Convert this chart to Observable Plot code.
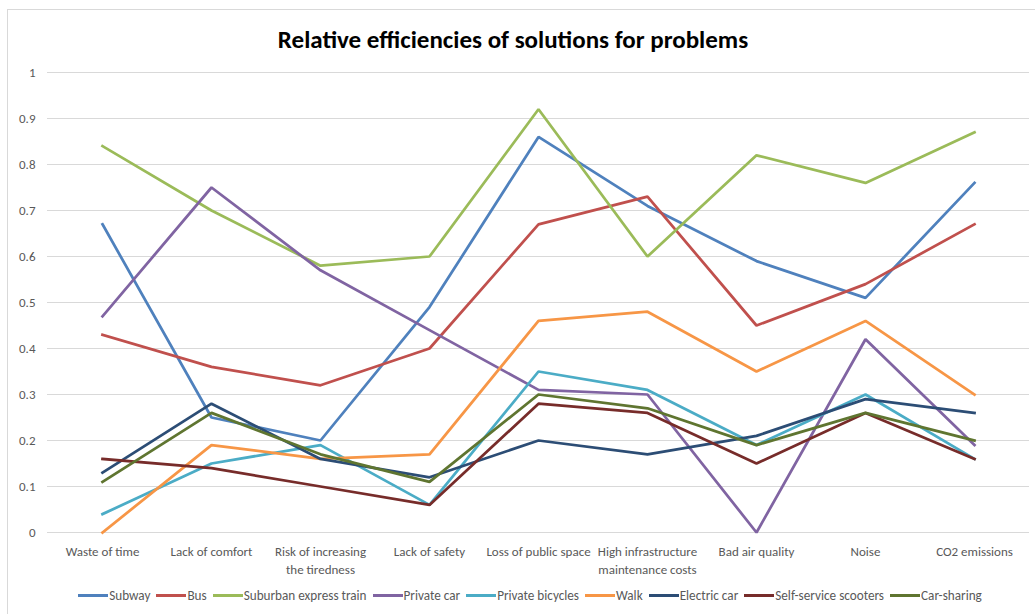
<!DOCTYPE html>
<html>
<head>
<meta charset="utf-8">
<script src="https://cdn.jsdelivr.net/npm/d3@7"></script>
<script src="https://cdn.jsdelivr.net/npm/@observablehq/plot@0.6"></script>
<style>
  html, body { margin: 0; padding: 0; background: #fff; width: 1035px; height: 614px; overflow: hidden; }
  body { position: relative; font-family: Carlito, Lato, "Open Sans", sans-serif; }
  #frame { position: absolute; left: 7px; top: 9px; width: 1040px; height: 620px; border: 1px solid #d9d9d9; box-sizing: border-box; }
  #title { position: absolute; left: 0; top: 24px; width: 1026px; text-align: center; font-weight: bold; font-size: 25px; color: #000; }
  #chart { position: absolute; left: 0; top: 60px; }
  #legend { position: absolute; left: 0; top: 587px; width: 1066px; display: flex; justify-content: center; font-size: 13.2px; color: #595959; }
  .item { display: flex; align-items: center; margin-right: 6px; }
  .sw { width: 30px; height: 3px; margin-right: 1px; }
</style>
</head>
<body>
<div id="frame"></div>
<div id="title">Relative efficiencies of solutions for problems</div>
<div id="chart"></div>
<div id="legend"></div>
<script>
const categories = ["Waste of time", "Lack of comfort", "Risk of increasing the tiredness", "Lack of safety", "Loss of public space", "High infrastructure maintenance costs", "Bad air quality", "Noise", "CO2 emissions"];
const tickLabels = ["Waste of time", "Lack of comfort", "Risk of increasing\nthe tiredness", "Lack of safety", "Loss of public space", "High infrastructure\nmaintenance costs", "Bad air quality", "Noise", "CO2 emissions"];
const yTicks = [0, 0.1, 0.2, 0.3, 0.4, 0.5, 0.6, 0.7, 0.8, 0.9, 1];

const seriesNames = ["Subway", "Bus", "Suburban express train", "Private car", "Private bicycles", "Walk", "Electric car", "Self-service scooters", "Car-sharing"];
const seriesColors = ["#4F81BD", "#C0504D", "#9BBB59", "#8064A2", "#4BACC6", "#F79646", "#2C4D75", "#772C2A", "#5F7530"];

const subway          = [0.67, 0.25, 0.20, 0.49, 0.86, 0.71, 0.59, 0.51, 0.76];
const bus             = [0.43, 0.36, 0.32, 0.40, 0.67, 0.73, 0.45, 0.54, 0.67];
const suburbanTrain   = [0.84, 0.70, 0.58, 0.60, 0.92, 0.60, 0.82, 0.76, 0.87];
const privateCar      = [0.47, 0.75, 0.57, 0.44, 0.31, 0.30, 0.00, 0.42, 0.19];
const privateBicycles = [0.04, 0.15, 0.19, 0.06, 0.35, 0.31, 0.19, 0.30, 0.16];
const walk            = [0.00, 0.19, 0.16, 0.17, 0.46, 0.48, 0.35, 0.46, 0.30];
const electricCar     = [0.13, 0.28, 0.16, 0.12, 0.20, 0.17, 0.21, 0.29, 0.26];
const scooters        = [0.16, 0.14, 0.10, 0.06, 0.28, 0.26, 0.15, 0.26, 0.16];
const carSharing      = [0.11, 0.26, 0.17, 0.11, 0.30, 0.27, 0.19, 0.26, 0.20];

const seriesValues = [subway, bus, suburbanTrain, privateCar, privateBicycles, walk, electricCar, scooters, carSharing];

const data = [];
seriesNames.forEach((name, i) => {
  categories.forEach((c, j) => data.push({series: name, category: c, value: seriesValues[i][j]}));
});

const labelOf = new Map(categories.map((c, i) => [c, tickLabels[i]]));
const font = "Carlito, Lato, 'Open Sans', sans-serif";

const chart = Plot.plot({
  width: 1035,
  height: 520,
  marginLeft: 47,
  marginRight: 6,
  marginTop: 12,
  marginBottom: 48,
  style: {fontFamily: font, fontSize: "13px", color: "#595959", background: "transparent", overflow: "visible"},
  x: {type: "point", domain: categories, padding: 0.5, label: null},
  y: {domain: [0, 1], label: null},
  color: {domain: seriesNames, range: seriesColors},
  marks: [
    Plot.gridY(yTicks, {stroke: "#d9d9d9", strokeOpacity: 1, strokeWidth: 1}),
    Plot.axisY(yTicks, {tickSize: 0, tickPadding: 12, fill: "#595959", fontSize: 13, label: null, tickFormat: d => String(d)}),
    Plot.axisX({tickSize: 0, tickPadding: 11, fill: "#595959", fontSize: 13, lineHeight: 1.38, label: null, tickFormat: d => labelOf.get(d)}),
    Plot.line(data, {x: "category", y: "value", z: "series", stroke: "series", strokeWidth: 2.75, strokeLinejoin: "miter", strokeLinecap: "square"})
  ]
});
document.getElementById("chart").appendChild(chart);

const legend = document.getElementById("legend");
seriesNames.forEach((name, i) => {
  const item = document.createElement("div");
  item.className = "item";
  const sw = document.createElement("div");
  sw.className = "sw";
  sw.style.background = seriesColors[i];
  const t = document.createElement("span");
  t.textContent = name;
  item.appendChild(sw);
  item.appendChild(t);
  legend.appendChild(item);
});
</script>
</body>
</html>
